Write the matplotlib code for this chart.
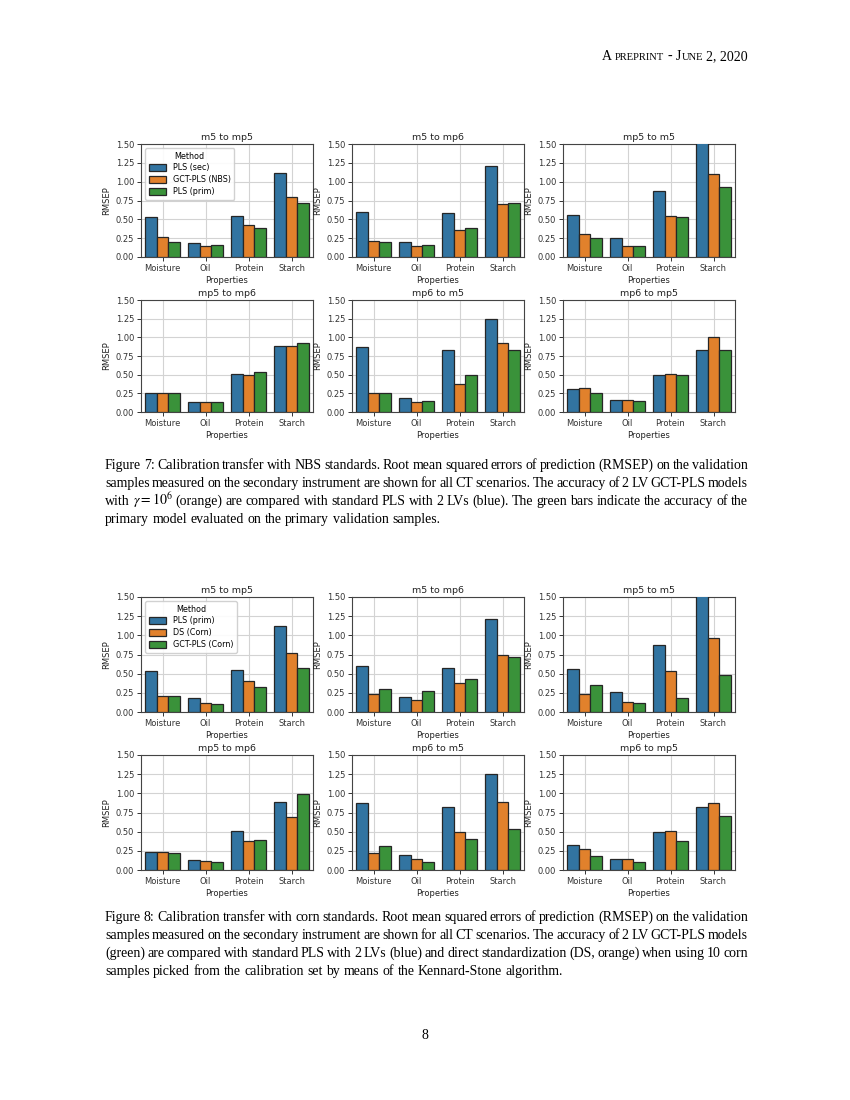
import numpy as np
import matplotlib.pyplot as plt

plt.rcParams['mathtext.fontset'] = 'stix'

#------------------------------- data ---------------------------------------
properties = ["Moisture", "Oil", "Protein", "Starch"]
scenarios = ["m5 to mp5", "m5 to mp6", "mp5 to m5", "mp5 to mp6", "mp6 to m5", "mp6 to mp5"]

# Figure 7 (NBS standards), one row per scenario, one column per property
methods_nbs = ["PLS (sec)", "GCT-PLS (NBS)", "PLS (prim)"]
nbs_pls_sec = [[0.53, 0.18, 0.55, 1.12],
               [0.60, 0.20, 0.58, 1.21],
               [0.56, 0.25, 0.88, 1.55],
               [0.25, 0.14, 0.51, 0.89],
               [0.87, 0.19, 0.83, 1.25],
               [0.31, 0.16, 0.50, 0.83]]
nbs_gct_pls = [[0.26, 0.15, 0.43, 0.80],
               [0.21, 0.15, 0.36, 0.70],
               [0.30, 0.14, 0.55, 1.10],
               [0.25, 0.14, 0.50, 0.88],
               [0.25, 0.13, 0.37, 0.92],
               [0.32, 0.16, 0.51, 1.01]]
nbs_pls_prim = [[0.20, 0.16, 0.39, 0.72],
                [0.20, 0.16, 0.39, 0.72],
                [0.25, 0.14, 0.53, 0.93],
                [0.25, 0.14, 0.53, 0.93],
                [0.25, 0.15, 0.49, 0.83],
                [0.25, 0.15, 0.49, 0.83]]

# Figure 8 (corn standards)
methods_corn = ["PLS (prim)", "DS (Corn)", "GCT-PLS (Corn)"]
corn_pls_prim = [[0.54, 0.18, 0.55, 1.12],
                 [0.60, 0.20, 0.58, 1.21],
                 [0.56, 0.26, 0.88, 1.55],
                 [0.24, 0.13, 0.51, 0.89],
                 [0.87, 0.20, 0.82, 1.25],
                 [0.32, 0.14, 0.50, 0.82]]
corn_ds = [[0.21, 0.12, 0.40, 0.77],
           [0.24, 0.16, 0.38, 0.74],
           [0.23, 0.13, 0.54, 0.96],
           [0.24, 0.12, 0.38, 0.69],
           [0.22, 0.15, 0.49, 0.89],
           [0.28, 0.15, 0.51, 0.88]]
corn_gct_pls = [[0.21, 0.11, 0.33, 0.57],
                [0.30, 0.28, 0.43, 0.72],
                [0.35, 0.12, 0.18, 0.48],
                [0.22, 0.11, 0.39, 0.99],
                [0.31, 0.11, 0.40, 0.53],
                [0.18, 0.11, 0.38, 0.71]]

colors = ['#3274a1', '#e1812c', '#3a923a']

caption7 = [
    "Figure 7: Calibration transfer with NBS standards. Root mean squared errors of prediction (RMSEP) on the validation",
    "samples measured on the secondary instrument are shown for all CT scenarios. The accuracy of 2 LV GCT-PLS models",
    "with $\\gamma = 10^6$ (orange) are compared with standard PLS with 2 LVs (blue). The green bars indicate the accuracy of the",
    "primary model evaluated on the primary validation samples.",
]
caption8 = [
    "Figure 8: Calibration transfer with corn standards. Root mean squared errors of prediction (RMSEP) on the validation",
    "samples measured on the secondary instrument are shown for all CT scenarios. The accuracy of 2 LV GCT-PLS models",
    "(green) are compared with standard PLS with 2 LVs (blue) and direct standardization (DS, orange) when using 10 corn",
    "samples picked from the calibration set by means of the Kennard-Stone algorithm.",
]

#------------------------------- layout -------------------------------------
W, H = 850, 1100
fig = plt.figure(figsize=(8.5, 11), dpi=100)
renderer = fig.canvas.get_renderer()

col_left = [141, 352, 563]
ax_w = 172
rows7 = [(144, 113), (300, 112)]
rows8 = [(597, 115), (755, 115)]


def px_axes(left, top, width, height):
    return fig.add_axes([left / W, 1 - (top + height) / H, width / W, height / H])


def draw_panel(ax, title, series, names, legend):
    x = np.arange(len(properties))
    bw = 0.8 / 3
    for k in range(3):
        ax.bar(x + (k - 1) * bw, series[k], bw, color=colors[k], edgecolor='#262626',
               linewidth=0.9, label=names[k], zorder=3)
    ax.set_xlim(-0.5, 3.5)
    ax.set_ylim(0, 1.5)
    ax.set_yticks(np.arange(0, 1.51, 0.25))
    ax.set_yticklabels(["%.2f" % v for v in np.arange(0, 1.51, 0.25)])
    ax.set_xticks(x)
    ax.set_xticklabels(properties)
    ax.grid(True, color='#d3d3d3', lw=0.8, zorder=0)
    ax.set_axisbelow(True)
    ax.tick_params(labelsize=6, length=3, width=0.7, pad=2, colors='#333333')
    for s in ax.spines.values():
        s.set_color('#444444')
        s.set_linewidth(0.8)
    ax.set_title(title, fontsize=6.8, pad=3, color='#222222')
    ax.set_xlabel("Properties", fontsize=6, labelpad=2, color='#222222')
    ax.set_ylabel("RMSEP", fontsize=6, labelpad=3, color='#222222')
    if legend:
        ax.legend(title="Method", loc='upper left', fontsize=5.8, title_fontsize=5.8,
                  handlelength=2.2, handleheight=1.0, borderpad=0.45, labelspacing=0.35,
                  framealpha=0.9, edgecolor='#cccccc', fancybox=True)


def draw_figure(rows, methods, a, b, c):
    for i, name in enumerate(scenarios):
        top, h = rows[i // 3]
        ax = px_axes(col_left[i % 3], top, ax_w, h)
        draw_panel(ax, name, [a[i], b[i], c[i]], methods, i == 0)


draw_figure(rows7, methods_nbs, nbs_pls_sec, nbs_gct_pls, nbs_pls_prim)
draw_figure(rows8, methods_corn, corn_pls_prim, corn_ds, corn_gct_pls)

#------------------------------- text ---------------------------------------
serif = 'Liberation Serif'
cap_size = 10.0


def justify(line, y, last=False, x0=105, x1=748):
    tokens = line.replace("$\\gamma = 10^6$", "$\\gamma\\!=\\!10^6$").split(" ")
    tokens = [t.replace("$\\gamma\\!=\\!10^6$", "$\\gamma = 10^6$") for t in tokens]
    arts = [fig.text(0, 1 - y / H, t, fontsize=cap_size, family=serif, va='baseline')
            for t in tokens]
    widths = [a.get_window_extent(renderer).width for a in arts]
    if last:
        gap = 0.25 * cap_size * 100 / 72
    else:
        gap = (x1 - x0 - sum(widths)) / (len(tokens) - 1)
    x = x0
    for a, w in zip(arts, widths):
        a.set_x(x / W)
        x += w + gap


for i, line in enumerate(caption7):
    justify(line, 469 + 18 * i, last=(i == len(caption7) - 1))
for i, line in enumerate(caption8):
    justify(line, 921 + 18 * i, last=(i == len(caption8) - 1))

# header in small caps, right aligned
pieces = [("A", 10, 3.5), ("PREPRINT", 7.6, 3.5), ("-", 10, 3.5), ("J", 10, 0),
          ("UNE", 7.6, 3.5), ("2, 2020", 10, 0)]
arts = [fig.text(0, 1 - 60 / H, p[0], fontsize=p[1], family=serif, va='baseline') for p in pieces]
widths = [a.get_window_extent(renderer).width for a in arts]
total = sum(widths) + sum(p[2] for p in pieces)
x = 748 - total
for a, w, p in zip(arts, widths, pieces):
    a.set_x(x / W)
    x += w + p[2]

fig.text(425 / W, 1 - 1039 / H, "8", fontsize=10, family=serif, ha='center', va='baseline')

fig.savefig("out.png", dpi=100)
